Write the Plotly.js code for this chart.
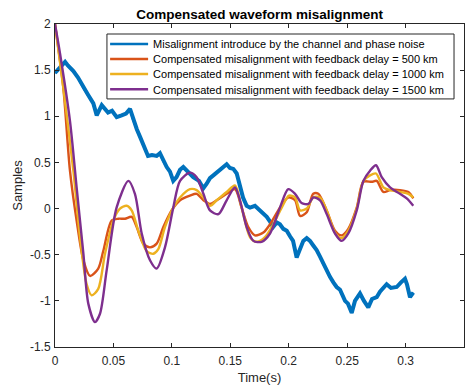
<!DOCTYPE html>
<html>
<head>
<meta charset="utf-8">
<script src="https://cdn.plot.ly/plotly-3.0.1.min.js"></script>
<style>
  html, body { margin: 0; padding: 0; background: #ffffff; }
  #chart { width: 475px; height: 388px; }
</style>
</head>
<body>
<div id="chart"></div>
<script>
// Misalignment introduced by the channel and phase noise (raw samples)
const tRaw = [0.000, 0.004, 0.0086, 0.011, 0.0157, 0.0197, 0.0242, 0.028, 0.0328, 0.0357,
  0.040, 0.0454, 0.0488, 0.0528, 0.057, 0.0608, 0.0642, 0.0667, 0.070, 0.0727,
  0.0756, 0.0796, 0.083, 0.087, 0.0898, 0.0924, 0.0956, 0.0984, 0.1012, 0.104,
  0.107, 0.1098, 0.1138, 0.1183, 0.1232, 0.1269, 0.1298, 0.1326, 0.1355, 0.1412,
  0.1469, 0.1497, 0.1526, 0.1555, 0.1583, 0.1609, 0.164, 0.1669, 0.1711, 0.1754,
  0.178, 0.1812, 0.184, 0.1866, 0.1897, 0.1925, 0.1954, 0.1983, 0.2011, 0.2037,
  0.2068, 0.2097, 0.2125, 0.2154, 0.2182, 0.221, 0.2239, 0.2268, 0.2296, 0.2325,
  0.2353, 0.2382, 0.241, 0.2439, 0.2482, 0.2507, 0.2539, 0.2567, 0.261, 0.2644,
  0.2681, 0.2713, 0.2753, 0.2781, 0.2838, 0.2875, 0.2924, 0.2961, 0.2995, 0.3012,
  0.3038, 0.3066];
const yRaw = [1.47, 1.52, 1.59, 1.55, 1.49, 1.42, 1.31, 1.24, 1.14, 1.01,
  1.12, 1.04, 1.06, 0.99, 1.01, 1.03, 1.08, 0.97, 0.86, 0.78,
  0.70, 0.57, 0.58, 0.57, 0.60, 0.52, 0.45, 0.40, 0.30, 0.34,
  0.42, 0.45, 0.40, 0.34, 0.30, 0.22, 0.27, 0.33, 0.36, 0.42,
  0.48, 0.44, 0.43, 0.38, 0.25, 0.12, 0.03, 0.01, 0.03, -0.02,
  -0.06, -0.09, -0.14, -0.20, -0.15, -0.17, -0.22, -0.24, -0.30, -0.35,
  -0.53, -0.43, -0.35, -0.32, -0.35, -0.40, -0.45, -0.52, -0.60, -0.66,
  -0.74, -0.80, -0.85, -0.88, -1.00, -1.03, -1.13, -1.00, -0.92, -1.00,
  -1.07, -0.98, -0.96, -0.90, -0.82, -0.86, -0.85, -0.80, -0.76, -0.82,
  -0.96, -0.91];

// Compensated misalignment, feedback delay = 500 km
const t500 = [0, 0.0071, 0.0128, 0.0185, 0.0243, 0.030, 0.037, 0.0413, 0.0485, 0.0542,
  0.0599, 0.0656, 0.0699, 0.0756, 0.0813, 0.087, 0.0927, 0.0998, 0.107, 0.1155,
  0.1212, 0.127, 0.1326, 0.1384, 0.1469, 0.154, 0.1597, 0.1654, 0.1711, 0.1783,
  0.184, 0.1925, 0.1996, 0.2054, 0.2097, 0.2154, 0.221, 0.2253, 0.2325, 0.2396,
  0.2453, 0.251, 0.2582, 0.2639, 0.2711, 0.2753, 0.281, 0.2867, 0.2952, 0.3024,
  0.3066];
const y500 = [2.00, 1.31, 0.41, -0.13, -0.56, -0.73, -0.65, -0.46, -0.13, -0.11,
  -0.11, -0.09, -0.20, -0.38, -0.42, -0.38, -0.20, -0.02, 0.09, 0.14,
  0.16, 0.09, 0.05, 0.09, 0.16, 0.21, 0.01, -0.20, -0.29, -0.26,
  -0.17, 0.01, 0.12, 0.09, -0.08, -0.04, 0.16, 0.16, -0.02, -0.24,
  -0.29, -0.22, 0.01, 0.29, 0.29, 0.30, 0.18, 0.20, 0.20, 0.18,
  0.11];

// Compensated misalignment, feedback delay = 1000 km
const t1000 = [0, 0.0071, 0.0157, 0.0214, 0.0271, 0.0314, 0.037, 0.0428, 0.0499, 0.0556,
  0.0613, 0.0656, 0.0713, 0.0784, 0.0841, 0.0884, 0.0941, 0.1012, 0.107, 0.1155,
  0.1212, 0.127, 0.1326, 0.1384, 0.1469, 0.154, 0.1597, 0.1669, 0.1726, 0.1797,
  0.1868, 0.194, 0.2002, 0.2054, 0.2097, 0.2154, 0.221, 0.2268, 0.2325, 0.2396,
  0.2453, 0.251, 0.2582, 0.2639, 0.2696, 0.2747, 0.281, 0.2867, 0.2952, 0.3024,
  0.3066];
const y1000 = [2.00, 1.31, 0.41, -0.31, -0.82, -0.94, -0.87, -0.49, -0.13, 0.00,
  0.03, -0.02, -0.24, -0.46, -0.49, -0.44, -0.20, 0.01, 0.12, 0.21,
  0.20, 0.12, 0.03, 0.09, 0.18, 0.25, 0.01, -0.31, -0.36, -0.31,
  -0.17, 0.01, 0.14, 0.12, -0.02, 0.00, 0.12, 0.12, -0.02, -0.26,
  -0.32, -0.24, 0.00, 0.30, 0.36, 0.38, 0.23, 0.20, 0.18, 0.16,
  0.12];

// Compensated misalignment, feedback delay = 1500 km
const t1500 = [0, 0.0043, 0.0128, 0.0185, 0.0243, 0.0285, 0.0342, 0.0385, 0.0442, 0.0527,
  0.0628, 0.0684, 0.0742, 0.0813, 0.087, 0.0941, 0.1012, 0.107, 0.1155, 0.1212,
  0.127, 0.1326, 0.1398, 0.1469, 0.154, 0.1583, 0.164, 0.1698, 0.1768, 0.184,
  0.1925, 0.1996, 0.2054, 0.211, 0.2168, 0.221, 0.2268, 0.2325, 0.2396, 0.2453,
  0.251, 0.2582, 0.2639, 0.2696, 0.2747, 0.2796, 0.2867, 0.2952, 0.301, 0.3066];
const y1500 = [2.00, 1.68, 0.95, 0.23, -0.49, -1.03, -1.23, -1.14, -0.67, 0.01,
  0.30, 0.16, -0.27, -0.56, -0.65, -0.42, 0.01, 0.30, 0.39, 0.34,
  0.16, -0.02, -0.06, 0.09, 0.23, 0.09, -0.20, -0.35, -0.36, -0.27,
  0.01, 0.21, 0.16, 0.06, 0.05, 0.12, 0.09, -0.06, -0.27, -0.35,
  -0.27, -0.02, 0.30, 0.41, 0.47, 0.34, 0.23, 0.16, 0.11, 0.03];

const seriesNames = [
  'Misalignment introduce by the channel and phase noise',
  'Compensated misalignment with feedback delay = 500 km',
  'Compensated misalignment with feedback delay = 1000 km',
  'Compensated misalignment with feedback delay = 1500 km'
];

const xTickVals = [0, 0.05, 0.1, 0.15, 0.2, 0.25, 0.3, 0.35];
const xTickText = ['0', '0.05', '0.1', '0.15', '0.2', '0.25', '0.3', '0.35'];
const yTickVals = [-1.5, -1, -0.5, 0, 0.5, 1, 1.5, 2];
const yTickText = ['-1.5', '-1', '-0.5', '0', '0.5', '1', '1.5', '2'];

const colors = ['#0072BD', '#D95319', '#EDB120', '#7E2F8E'];
const FONT = 'Liberation Sans, Arial, Helvetica, sans-serif';
const INK = '#262626';

const legendIds = ['legend', 'legend2', 'legend3', 'legend4'];

const traces = [
  { x: tRaw, y: yRaw, mode: 'lines', line: { color: colors[0], width: 2.4 } },
  { x: t500, y: y500, mode: 'lines', line: { color: colors[1], width: 2.4, shape: 'spline', smoothing: 0.8 } },
  { x: t1000, y: y1000, mode: 'lines', line: { color: colors[2], width: 2.4, shape: 'spline', smoothing: 0.8 } },
  { x: t1500, y: y1500, mode: 'lines', line: { color: colors[3], width: 2.4, shape: 'spline', smoothing: 0.8 } }
].map((tr, i) => Object.assign(tr, { name: seriesNames[i], legend: legendIds[i] }));

// the noisy raw trace reads as a wider band; draw that band underneath its legend trace
traces.unshift({
  x: tRaw, y: yRaw, mode: 'lines', showlegend: false, hoverinfo: 'skip',
  line: { color: colors[0], width: 4 }
});

const axisCommon = {
  showline: true, linecolor: INK, linewidth: 1, mirror: 'ticks',
  ticks: 'inside', ticklen: 4, tickcolor: INK, tickwidth: 1,
  showgrid: false, zeroline: false,
  tickfont: { family: FONT, size: 12, color: INK }
};

// one compact legend row per series, stacked inside a shared frame
const legendRowY = [0.938, 0.8915, 0.845, 0.798];
function legendRow(y) {
  return {
    x: 0.1225, y: y, xanchor: 'left', yanchor: 'middle',
    bgcolor: 'rgba(0,0,0,0)', borderwidth: 0,
    font: { family: FONT, size: 11, color: '#000000' },
    itemwidth: 38
  };
}

const layout = {
  width: 475, height: 388,
  margin: { l: 55, r: 11, t: 24, b: 41 },
  paper_bgcolor: '#ffffff', plot_bgcolor: '#ffffff',
  showlegend: true,
  title: {
    text: '<b>Compensated waveform misalignment</b>',
    font: { family: FONT, size: 13.5, color: '#000000' },
    x: 0.5465, xanchor: 'center', y: 0.962, yanchor: 'middle'
  },
  xaxis: Object.assign({}, axisCommon, {
    range: [0, 0.35], tickvals: xTickVals, ticktext: xTickText, ticklabelstandoff: 3,
    title: { text: 'Time(s)', font: { family: FONT, size: 13, color: INK }, standoff: 5 }
  }),
  yaxis: Object.assign({}, axisCommon, {
    range: [-1.5, 2], tickvals: yTickVals, ticktext: yTickText, ticklabelstandoff: 1,
    title: { text: 'Samples', font: { family: FONT, size: 13, color: INK }, standoff: 4 }
  }),
  shapes: [{
    type: 'rect', xref: 'paper', yref: 'paper', layer: 'above',
    x0: 0.127, x1: 0.9756, y0: 0.768, y1: 0.969,
    fillcolor: '#ffffff', line: { color: INK, width: 1 }
  }]
};
legendIds.forEach((id, i) => { layout[id] = legendRow(legendRowY[i]); });

Plotly.newPlot('chart', traces, layout, { displayModeBar: false, staticPlot: true });
</script>
</body>
</html>
